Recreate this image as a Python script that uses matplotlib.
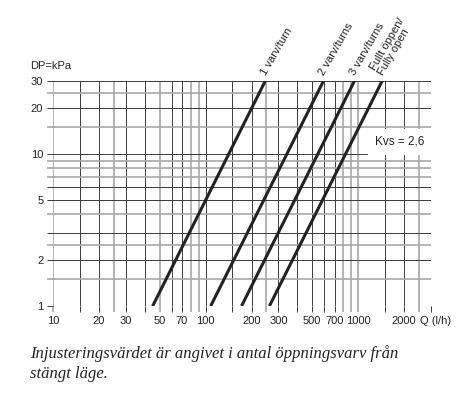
import matplotlib
matplotlib.use("Agg")
import matplotlib.pyplot as plt

# Flow chart data (Q in l/h at DP = 1 and 30 kPa)
settings = ["1 varv/turn", "2 varv/turns", "3 varv/turns", "Fullt öppen/\nFully open"]
dp_ends = [1, 30]
q_at_1kpa = [45, 108, 172, 262]
q_at_30kpa = [246, 592, 945, 1435]

x_grid = [10, 15, 20, 25, 30, 40, 50, 60, 70, 80, 90, 100, 150, 200, 250, 300,
          400, 500, 600, 700, 800, 900, 1000, 1500, 2000, 2500, 3000]
x_gray = [10, 25, 50, 80, 90, 250, 800, 900, 1000, 2500]
x_labels = {10: "10", 20: "20", 30: "30", 50: "50", 70: "70", 100: "100",
            200: "200", 300: "300", 500: "500", 700: "700", 1000: "1000",
            2000: "2000"}

y_grid = [1, 1.5, 2, 2.5, 3, 4, 5, 6, 7, 8, 9, 10, 15, 20, 25, 30]
y_gray = [1.5, 2.5, 4, 7, 8, 9, 15, 25]
y_labels = {1: "1", 2: "2", 5: "5", 10: "10", 20: "20", 30: "30"}

plt.rcParams['font.family'] = ['Liberation Sans', 'DejaVu Sans']

fig = plt.figure(figsize=(4.66, 3.97), dpi=100)
ax = fig.add_axes([53 / 466, 1 - 306 / 397, 378 / 466, 225 / 397])
ax.set_xscale('log')
ax.set_yscale('log')
ax.set_xlim(10, 3000)
ax.set_ylim(1, 30)

for s in ax.spines.values():
    s.set_visible(False)

ax.set_xticks(x_grid)
ax.set_xticklabels([x_labels.get(v, "") for v in x_grid])
ax.set_yticks(y_grid)
ax.set_yticklabels([y_labels.get(v, "") for v in y_grid])
ax.minorticks_off()
ax.grid(True)
ax.tick_params(direction='out', length=4, width=0.8, pad=3,
               labelsize=8, labelcolor='#222222')


def style_ticks(ticks, values, gray_values):
    for tick, v in zip(ticks, values):
        if v in gray_values:
            col, lw = '#a8a8a8', 1.2
        else:
            col, lw = '#3a3a3a', 0.7
        tick.gridline.set_color(col)
        tick.gridline.set_linewidth(lw)
        tick.tick1line.set_color(col)
        tick.tick1line.set_markeredgecolor(col)
        tick.tick1line.set_markeredgewidth(lw)


style_ticks(ax.xaxis.get_major_ticks(), x_grid, x_gray)
style_ticks(ax.yaxis.get_major_ticks(), y_grid, y_gray)

for name, q1, q30 in zip(settings, q_at_1kpa, q_at_30kpa):
    ax.plot([q1, q30], dp_ends, color='#222222', lw=2.2, solid_capstyle='butt',
            zorder=3)
    ax.annotate(name, xy=(q30, dp_ends[1]), xytext=(2, 3),
                textcoords='offset points', rotation=60, rotation_mode='anchor',
                ha='left', va='bottom', fontsize=8, color='#222222',
                linespacing=0.95, annotation_clip=False)

# axis unit label sits just right of the 2000 label, at the right edge
ax.annotate("Q (l/h)", xy=(3000, 0), xycoords=('data', 'axes fraction'),
            xytext=(-8, -7), textcoords='offset points', ha='left', va='top',
            fontsize=8, color='#222222', annotation_clip=False)

ax.text(1870, 12, "Kvs = 2,6", ha='center', va='center', fontsize=8.5,
        color='#222222', zorder=4,
        bbox=dict(facecolor='white', edgecolor='none', pad=5))

fig.text(30 / 466, 1 - 66 / 397, "DP=kPa", fontsize=8, color='#222222',
         ha='left', va='center')

fig.text(30 / 466, 1 - 345 / 397,
         "Injusteringsvärdet är angivet i antal öppningsvarv från\nstängt läge.",
         family=['Liberation Serif', 'DejaVu Serif'], style='italic',
         fontsize=12, color='#222222', ha='left', va='top', linespacing=1.35)

fig.savefig("out.png", dpi=100)
